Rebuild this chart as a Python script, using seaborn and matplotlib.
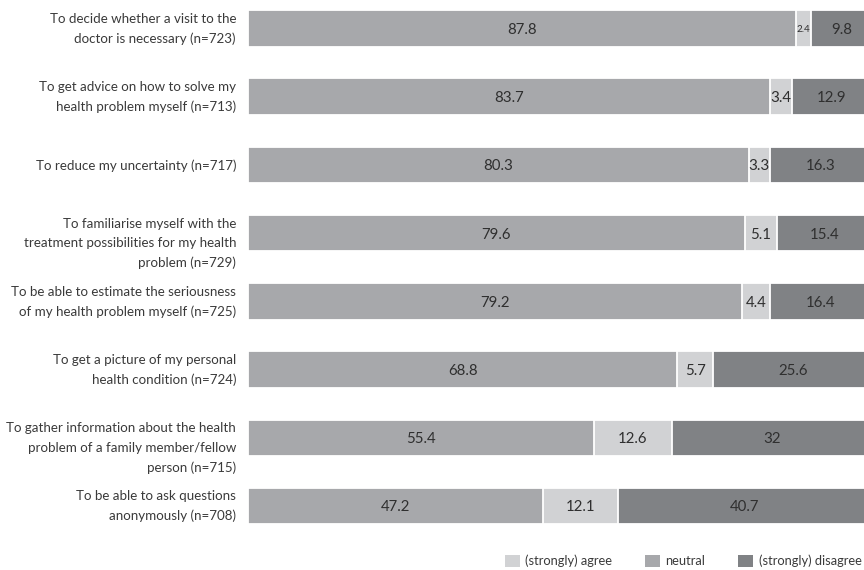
import matplotlib
matplotlib.use("Agg")
import matplotlib.pyplot as plt
import matplotlib.transforms as mtransforms
from matplotlib.patches import Patch
import seaborn as sns
import pandas as pd

# Reasons for looking up health information online
reasons = [
    "To decide whether a visit to the\ndoctor is necessary (n=723)",
    "To get advice on how to solve my\nhealth problem myself (n=713)",
    "To reduce my uncertainty (n=717)",
    "To familiarise myself with the\ntreatment possibilities for my health\nproblem (n=729)",
    "To be able to estimate the seriousness\nof my health problem myself (n=725)",
    "To get a picture of my personal\nhealth condition (n=724)",
    "To gather information about the health\nproblem of a family member/fellow\nperson (n=715)",
    "To be able to ask questions\nanonymously (n=708)",
]
first_seg = [87.8, 83.7, 80.3, 79.6, 79.2, 68.8, 55.4, 47.2]
second_seg = [2.4, 3.4, 3.3, 5.1, 4.4, 5.7, 12.6, 12.1]
third_seg = [9.8, 12.9, 16.3, 15.4, 16.4, 25.6, 32, 40.7]
legend_labels = ["(strongly) agree", "neutral", "(strongly) disagree"]

c_light = "#d1d2d4"
c_mid = "#a7a8ab"
c_dark = "#808285"

df = pd.DataFrame({
    "reason": reasons,
    "first": first_seg,
    "second": second_seg,
    "third": third_seg,
})
df["cum2"] = df["first"] + df["second"]
df["cum3"] = df["cum2"] + df["third"]

sns.set_theme(style="white")
plt.rcParams["font.family"] = ["Lato", "DejaVu Sans"]

W, H = 864, 570
fig = plt.figure(figsize=(W / 100, H / 100), dpi=100)
ax = fig.add_axes([248 / W, 0, (W - 248) / W, 1])

# stacked bars: draw cumulative totals back to front
bar_h = 0.535
common = dict(y="reason", data=df, order=reasons, orient="h", width=bar_h,
              edgecolor="white", linewidth=1.3, saturation=1, ax=ax)
sns.barplot(x="cum3", color=c_dark, **common)
sns.barplot(x="cum2", color=c_light, **common)
sns.barplot(x="first", color=c_mid, **common)

txt_color = "#2f2f2f"
for i in range(len(reasons)):
    a, b, c = first_seg[i], second_seg[i], third_seg[i]
    ax.text(a / 2, i, f"{a:g}", ha="center", va="center_baseline",
            fontsize=10.8, color=txt_color)
    small = b < 3.3
    ax.text(a + b / 2, i, f"{b:g}", ha="center", va="center_baseline",
            fontsize=7 if small else 10.8, color=txt_color)
    ax.text(a + b + c / 2, i, f"{c:g}", ha="center", va="center_baseline",
            fontsize=10.8, color=txt_color)

px_per_unit = 68.21
ax.set_xlim(0, (W - 248) / 6.24)
ax.set_ylim(7 + (H - 506) / px_per_unit, -28.5 / px_per_unit)
ax.set_xlabel("")
ax.set_ylabel("")
ax.set_xticks([])
ax.set_yticks([])
for s in ax.spines.values():
    s.set_visible(False)

# category labels, right-aligned left of the bars
label_trans = mtransforms.blended_transform_factory(ax.transAxes, ax.transData)
line_pitch = 19.5
for i, lab in enumerate(reasons):
    lines = lab.split("\n")
    start = 0.0 if len(lines) == 1 else -10.5
    for k, line in enumerate(lines):
        dy = start + k * line_pitch
        tr = label_trans + mtransforms.ScaledTranslation(-12 / 100, -dy / 100,
                                                         fig.dpi_scale_trans)
        ax.text(0, i, line, transform=tr, ha="right", va="center_baseline",
                fontsize=9.6, color="#3a3a3a", clip_on=False)

handles = [Patch(facecolor=c, edgecolor="none") for c in (c_light, c_mid, c_dark)]
fig.legend(handles, legend_labels, ncol=3, frameon=False, loc="center right",
           bbox_to_anchor=(0.997, (H - 561) / H), fontsize=9.3,
           handlelength=1.16, handleheight=1.16, handletextpad=0.45,
           columnspacing=2.5, borderpad=0, borderaxespad=0,
           labelcolor="#3a3a3a")

fig.savefig("out.png", dpi=100)
